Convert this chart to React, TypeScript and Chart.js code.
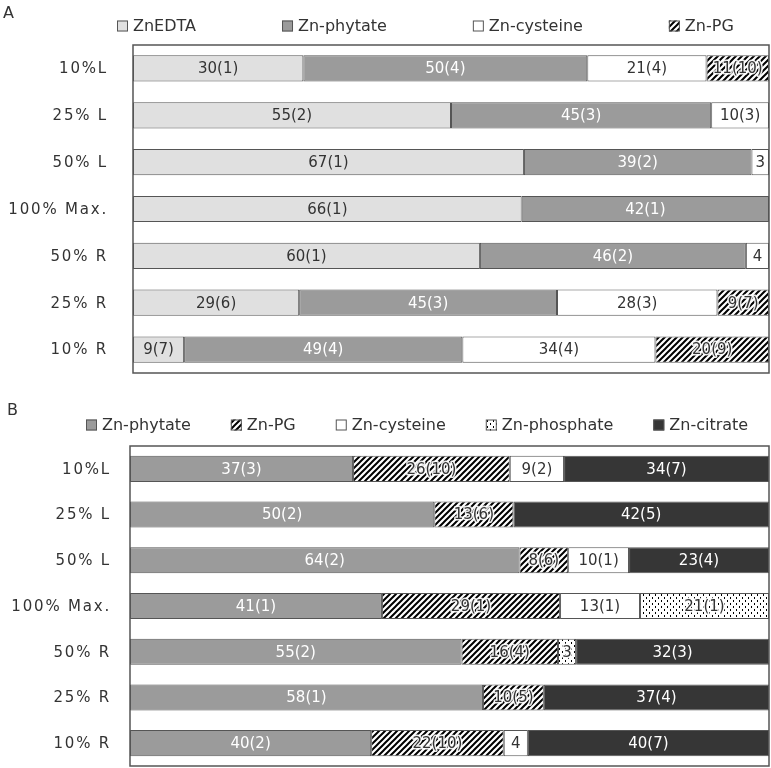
import React, { useEffect, useRef } from 'react';
import { Chart, registerables } from 'chart.js';

Chart.register(...registerables);

const categories = ['10%L', '25% L', '50% L', '100% Max.', '50% R', '25% R', '10% R'];

// Panel A
const aEDTA = [30, 55, 67, 66, 60, 29, 9];
const aEDTAErr = [1, 2, 1, 1, 1, 6, 7];
const aPhytate = [50, 45, 39, 42, 46, 45, 49];
const aPhytateErr = [4, 3, 2, 1, 2, 3, 4];
const aCysteine = [21, 10, 3, null, 4, 28, 34];
const aCysteineErr = [4, 3, null, null, null, 3, 4];
const aPG = [11, null, null, null, null, 9, 20];
const aPGErr = [10, null, null, null, null, 7, 9];

// Panel B
const bPhytate = [37, 50, 64, 41, 55, 58, 40];
const bPhytateErr = [3, 2, 2, 1, 2, 1, 2];
const bPG = [26, 13, 8, 29, 16, 10, 22];
const bPGErr = [10, 6, 6, 1, 4, 5, 10];
const bCysteine = [9, null, 10, 13, null, null, 4];
const bCysteineErr = [2, null, 1, 1, null, null, null];
const bPhosphate = [null, null, null, 21, 3, null, null];
const bPhosphateErr = [null, null, null, 1, null, null, null];
const bCitrate = [34, 42, 23, null, 32, 37, 40];
const bCitrateErr = [7, 5, 4, null, 3, 4, 7];

type Val = number | null;
type SeriesDef = { name: string; values: Val[]; errs: Val[]; fill: string; text: string };

const seriesA: SeriesDef[] = [
  { name: 'ZnEDTA', values: aEDTA, errs: aEDTAErr, fill: 'edta', text: '#333333' },
  { name: 'Zn-phytate', values: aPhytate, errs: aPhytateErr, fill: 'phytate', text: '#ffffff' },
  { name: 'Zn-cysteine', values: aCysteine, errs: aCysteineErr, fill: 'cysteine', text: '#333333' },
  { name: 'Zn-PG', values: aPG, errs: aPGErr, fill: 'pg', text: '#333333' },
];

const seriesB: SeriesDef[] = [
  { name: 'Zn-phytate', values: bPhytate, errs: bPhytateErr, fill: 'phytate', text: '#ffffff' },
  { name: 'Zn-PG', values: bPG, errs: bPGErr, fill: 'pg', text: '#333333' },
  { name: 'Zn-cysteine', values: bCysteine, errs: bCysteineErr, fill: 'cysteine', text: '#333333' },
  { name: 'Zn-phosphate', values: bPhosphate, errs: bPhosphateErr, fill: 'phosphate', text: '#333333' },
  { name: 'Zn-citrate', values: bCitrate, errs: bCitrateErr, fill: 'citrate', text: '#ffffff' },
];

const FONT = '"DejaVu Sans", sans-serif';

function makeFill(ctx: CanvasRenderingContext2D, key: string): any {
  if (key === 'edta') return '#e0e0e0';
  if (key === 'phytate') return '#9b9b9b';
  if (key === 'cysteine') return '#ffffff';
  if (key === 'citrate') return '#363636';
  if (key === 'pg') {
    const s = 6;
    const c = document.createElement('canvas');
    c.width = s;
    c.height = s;
    const g = c.getContext('2d')!;
    g.fillStyle = '#ffffff';
    g.fillRect(0, 0, s, s);
    g.strokeStyle = '#000000';
    g.lineWidth = 2;
    g.beginPath();
    g.moveTo(-1, s + 1);
    g.lineTo(s + 1, -1);
    g.moveTo(-1, 1);
    g.lineTo(1, -1);
    g.moveTo(s - 1, s + 1);
    g.lineTo(s + 1, s - 1);
    g.stroke();
    return ctx.createPattern(c, 'repeat');
  }
  // phosphate: dotted
  const w = 6;
  const h = 6;
  const c = document.createElement('canvas');
  c.width = w;
  c.height = h;
  const g = c.getContext('2d')!;
  g.fillStyle = '#ffffff';
  g.fillRect(0, 0, w, h);
  g.fillStyle = '#000000';
  g.fillRect(1, 0, 1, 2);
  g.fillRect(4, 3, 1, 2);
  return ctx.createPattern(c, 'repeat');
}

type PanelProps = {
  series: SeriesDef[];
  letter: string;
  top: number;
  height: number;
  padding: { top: number; left: number; right: number; bottom: number };
  barPct: number;
  labelRight: number;
  legendStart: number;
  legendGap: number;
  legendY: number;
  letterX: number;
  letterY: number;
};

function Panel(props: PanelProps) {
  const ref = useRef<HTMLCanvasElement | null>(null);

  useEffect(() => {
    const canvas = ref.current!;
    const ctx = canvas.getContext('2d')!;
    const { series } = props;

    const totals = categories.map((_, j) =>
      series.reduce((acc, s) => acc + (s.values[j] ?? 0), 0)
    );
    const fills = series.map((s) => makeFill(ctx, s.fill));

    const datasets = series.map((s, i) => ({
      label: s.name,
      data: s.values.map((v, j) => (v == null ? null : (v / totals[j]) * 100)),
      backgroundColor: fills[i],
      borderColor: '#555555',
      borderWidth: 1,
      borderSkipped: false as any,
      barPercentage: props.barPct,
      categoryPercentage: 1,
    }));

    const decor = {
      id: 'panelDecor',
      afterDatasetsDraw(chart: any) {
        const c = chart.ctx as CanvasRenderingContext2D;
        series.forEach((s, di) => {
          const meta = chart.getDatasetMeta(di);
          const patterned = s.fill === 'pg' || s.fill === 'phosphate';
          meta.data.forEach((el: any, j: number) => {
            const raw = s.values[j];
            if (raw == null) return;
            const err = s.errs[j];
            const p = el.getProps(['x', 'y', 'base', 'height'], true);
            const l = Math.min(p.x, p.base);
            const r = Math.max(p.x, p.base);
            const txt = err == null ? `${raw}` : `${raw}(${err})`;
            c.save();
            c.beginPath();
            c.rect(l + 1, p.y - p.height / 2 + 1, r - l - 2, p.height - 2);
            c.clip();
            c.font = `15px ${FONT}`;
            c.textAlign = 'center';
            c.textBaseline = 'middle';
            if (patterned) {
              c.strokeStyle = 'rgba(255,255,255,0.9)';
              c.lineWidth = 3;
              c.lineJoin = 'round';
              c.strokeText(txt, (l + r) / 2, p.y + 1);
            }
            c.fillStyle = s.text;
            c.fillText(txt, (l + r) / 2, p.y + 1);
            c.restore();
          });
        });
      },
      afterDraw(chart: any) {
        const c = chart.ctx as CanvasRenderingContext2D;
        const a = chart.chartArea;
        // frame
        c.save();
        c.strokeStyle = '#555555';
        c.lineWidth = 1.5;
        c.strokeRect(a.left, a.top, a.right - a.left, a.bottom - a.top);
        c.restore();

        // category labels
        const yScale = chart.scales.y;
        c.save();
        c.font = `15px ${FONT}`;
        (c as any).letterSpacing = '1.8px';
        c.fillStyle = '#333333';
        c.textAlign = 'right';
        c.textBaseline = 'middle';
        categories.forEach((cat, j) => {
          c.fillText(cat, props.labelRight, yScale.getPixelForValue(j) + 1);
        });
        c.restore();

        // legend
        c.save();
        c.font = `16px ${FONT}`;
        c.textBaseline = 'middle';
        c.textAlign = 'left';
        let x = props.legendStart;
        const box = 11;
        series.forEach((s, i) => {
          const yc = props.legendY;
          c.fillStyle = fills[i];
          c.fillRect(x, yc - box / 2, box, box);
          c.strokeStyle = '#555555';
          c.lineWidth = 1;
          c.strokeRect(x + 0.5, yc - box / 2 + 0.5, box - 1, box - 1);
          c.fillStyle = '#333333';
          const tx = x + box + 5;
          c.fillText(s.name, tx, yc + 1);
          x = tx + c.measureText(s.name).width + props.legendGap;
        });
        c.restore();

        // panel letter
        c.save();
        c.font = `16px ${FONT}`;
        c.fillStyle = '#333333';
        c.textAlign = 'left';
        c.textBaseline = 'alphabetic';
        c.fillText(props.letter, props.letterX, props.letterY);
        c.restore();
      },
    };

    const chart = new Chart(ctx, {
      type: 'bar',
      data: { labels: categories, datasets },
      options: {
        indexAxis: 'y',
        responsive: false,
        animation: false,
        devicePixelRatio: 1,
        layout: { padding: props.padding },
        scales: {
          x: { type: 'linear', min: 0, max: 100, stacked: true, display: false },
          y: { type: 'category', stacked: true, display: false },
        },
        plugins: {
          legend: { display: false },
          tooltip: { enabled: false },
          title: { display: false },
        },
      },
      plugins: [decor],
    });
    return () => chart.destroy();
  }, []);

  return (
    <canvas
      ref={ref}
      width={771}
      height={props.height}
      style={{ position: 'absolute', left: 0, top: props.top, width: 771, height: props.height }}
    />
  );
}

export default function App() {
  return (
    <div
      style={{
        position: 'fixed',
        left: 0,
        top: 0,
        width: 771,
        height: 768,
        background: '#ffffff',
        overflow: 'hidden',
      }}
    >
      <Panel
        series={seriesA}
        letter="A"
        top={0}
        height={390}
        padding={{ top: 45, left: 133, right: 2, bottom: 17 }}
        barPct={0.56}
        labelRight={108}
        legendStart={117}
        legendGap={86}
        legendY={26}
        letterX={3}
        letterY={18}
      />
      <Panel
        series={seriesB}
        letter="B"
        top={390}
        height={378}
        padding={{ top: 56, left: 130, right: 2, bottom: 2 }}
        barPct={0.57}
        labelRight={111}
        legendStart={86}
        legendGap={40}
        legendY={35}
        letterX={7}
        letterY={25}
      />
    </div>
  );
}
